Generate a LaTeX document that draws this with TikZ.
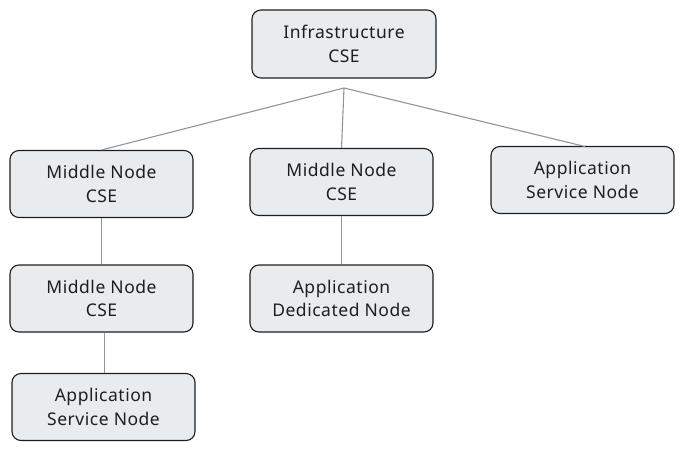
\documentclass[tikz,border=0pt]{standalone}
\usepackage{fontspec}
\setmainfont{Noto Sans}[LetterSpace=3]
\definecolor{boxfill}{HTML}{E9ECEF}
\definecolor{boxline}{HTML}{1E1E1E}
\definecolor{linkc}{HTML}{8E959C}
\begin{document}
\begin{tikzpicture}[x=1pt,y=-1pt,
  box/.style={draw=boxline, fill=boxfill, line width=1.1pt, rounded corners=9pt,
    minimum width=183pt, minimum height=67pt, align=center, inner sep=2pt,
    font=\fontsize{17.5}{23.5}\selectfont, text=boxline},
  link/.style={draw=linkc, line width=1.1pt}]
\useasboundingbox (0,0) rectangle (684,452);
\node[box, minimum width=184pt, minimum height=68pt] (infra) at (344,44) {Infrastructure\\CSE};
\node[box] (mid1) at (101.5,184) {Middle Node\\CSE};
\node[box] (mid2) at (341.5,182) {Middle Node\\CSE};
\node[box] (asn1) at (582.5,180) {Application\\Service Node};
\node[box] (mid3) at (101.5,298.5) {Middle Node\\CSE};
\node[box] (adn) at (341.5,298.5) {Application\\Dedicated Node};
\node[box] (asn2) at (103.5,407) {Application\\Service Node};
\coordinate (j) at (344,88);
\draw[link] (j) -- (mid1.north);
\draw[link] (j) -- (mid2.north);
\draw[link] (j) -- (585,146.5);
\draw[link] (mid1.south) -- (mid3.north);
\draw[link] (mid2.south) -- (adn.north);
\draw[link] ([xshift=3pt]mid3.south) -- ([xshift=1pt]asn2.north);
\end{tikzpicture}
\end{document}
